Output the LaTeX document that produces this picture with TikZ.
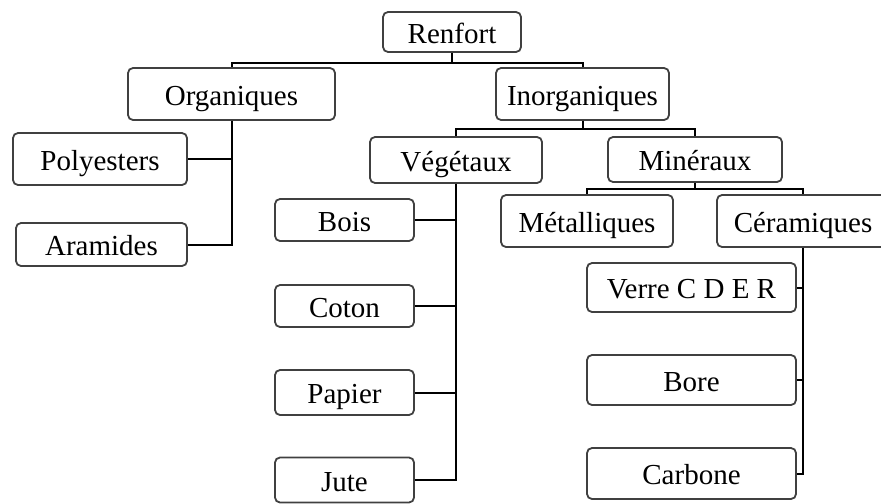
\documentclass[tikz,border=0pt]{standalone}
\usepackage{fontspec}
\setmainfont{Liberation Serif}
\usepackage{tikz}
\tikzstyle{box}=[draw=black!75,line width=0.9pt,rounded corners=2.5pt,inner sep=0pt,text height=12pt,text depth=1pt,font=\fontsize{14.5}{16}\selectfont]
\tikzstyle{link}=[draw,line width=1pt]

\begin{document}
\begin{tikzpicture}[x=0.5pt,y=-0.5pt]
   \useasboundingbox (0,0) rectangle (881,503);
   \clip (0,0) rectangle (881,503);
   \foreach \x/\y/\w/\h/\name/\txt in {452/32/69/20/ren/Renfort,
        231.5/94/103.5/26/org/Organiques, 582.5/94/86.5/26/inorg/Inorganiques,
        100/159/87/26/poly/Polyesters, 101.5/244.5/85.5/21.5/ara/Aramides,
        456/160/86/23/veg/Végétaux, 695/159.5/87/22.5/min/Minéraux,
        344.5/220/69.5/21/bois/Bois, 344.5/306/69.5/21/coton/Coton,
        344.5/392.5/69.5/22.5/papier/Papier, 344.5/480/69.5/22.5/jute/Jute,
        587/221/86/26/met/Métalliques, 803/221/86/26/cer/Céramiques,
        691.5/287.5/104.5/24.5/verre/Verre C D E R, 691.5/380/104.5/25/bore/Bore,
        691.5/473.5/104.5/25.5/carb/Carbone}
        \node[box,minimum width={\w pt},minimum height={\h pt}] (\name) at (\x,\y) {\txt};
    \foreach \child in {org,inorg}
        \path[link] (ren.south) -- ++(0,10) -| (\child.north);
    \foreach \child in {veg,min}
        \path[link] (inorg.south) -- ++(0,8) -| (\child.north);
    \foreach \child in {met,cer}
        \path[link] (min.south) -- ++(0,6) -| (\child.north);
    \foreach \leaf in {poly,ara}
        \path[link] (org.south) |- (\leaf.east);
    \foreach \leaf in {bois,coton,papier,jute}
        \path[link] (veg.south) |- (\leaf.east);
    \foreach \leaf in {verre,bore,carb}
        \path[link] (cer.south) |- (\leaf.east);
\end{tikzpicture}
\end{document}
